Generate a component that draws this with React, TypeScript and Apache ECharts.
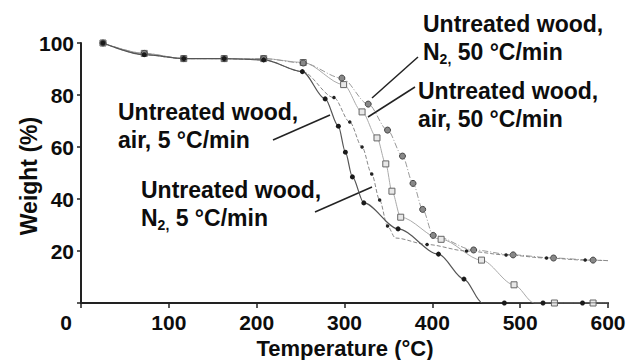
import { useEffect, useRef } from "react";
import * as echarts from "echarts";

// Axis ticks
const temperatureTicks = [0, 100, 200, 300, 400, 500, 600];
const weightTicks = [0, 20, 40, 60, 80, 100];

// TGA curves of untreated wood: [temperature (°C), residual weight (%)]
const airSlow: number[][] = [
  [25, 100], [72, 95.5], [117, 94], [163, 94], [208, 93.5], [252, 89],
  [278, 78.5], [293, 68], [301, 58], [309, 48.5], [322, 38.5], [361, 28.5],
  [407, 18.8], [436, 9.2], [457, 0], [482, 0], [526, 0], [571, 0], [600, 0],
];
const nitrogenSlow: number[][] = [
  [25, 100], [72, 95.5], [117, 94], [163, 94], [208, 93.5], [252, 89],
  [288, 79], [306, 69.6], [320, 60], [331, 49.6], [340, 39.6], [349, 29.6],
  [358, 25], [394, 22.5], [439, 20], [484, 18.5], [530, 17.3], [574, 16.5], [600, 16.3],
];
const airFast: number[][] = [
  [25, 100], [72, 96], [117, 94], [163, 94], [208, 94], [253, 92.5],
  [299, 84], [320, 73.5], [337, 63.5], [347, 53.5], [354, 43], [364, 33],
  [410, 24.5], [456, 16.5], [493, 7], [516, 0], [539, 0], [583, 0], [600, 0],
];
const nitrogenFast: number[][] = [
  [25, 100], [72, 96], [117, 94], [163, 94], [208, 94], [253, 92.3],
  [297, 86.5], [327, 76.5], [349, 66.5], [366, 56.5], [378, 46], [389, 36],
  [401, 26], [447, 20.4], [492, 18.5], [538, 17.3], [583, 16.5], [600, 16.3],
];

// Temperatures that only shape a curve (no measured marker drawn)
const airSlowBends = [457, 600];
const nitrogenSlowBends = [358, 600];
const airFastBends = [516, 600];
const nitrogenFastBends = [600];

const FONT = "Liberation Sans";
const INK = "#0d0d0d";

function toData(points: number[][], bends: number[]) {
  return points.map(([t, w]) =>
    bends.includes(t) ? { value: [t, w], symbol: "none" } : { value: [t, w] }
  );
}

export default function App() {
  const ref = useRef<HTMLDivElement>(null);

  useEffect(() => {
    document.body.style.margin = "0";
    if (!ref.current) return;
    const chart = echarts.init(ref.current, undefined, { renderer: "svg" });

    const labelStyle = {
      fontFamily: FONT,
      fontWeight: "bold" as const,
      fontSize: 21,
      color: INK,
    };
    const noteFont = `bold 23px "${FONT}"`;
    const noteRich = {
      sub: {
        fontFamily: FONT,
        fontWeight: "bold" as const,
        fontSize: 14,
        lineHeight: 14,
        verticalAlign: "bottom" as const,
        fill: INK,
      },
    };
    const note = (x: number, y: number, text: string) => ({
      type: "text",
      x,
      y,
      style: {
        text,
        font: noteFont,
        fill: INK,
        lineHeight: 28,
        rich: noteRich,
        align: "left",
        verticalAlign: "top",
      },
    });
    const leader = (x1: number, y1: number, x2: number, y2: number) => ({
      type: "line",
      shape: { x1, y1, x2, y2 },
      style: { stroke: "#222", lineWidth: 1.5 },
    });

    chart.setOption({
      animation: false,
      backgroundColor: "#fff",
      grid: { left: 81, right: 21, top: 43, bottom: 57, containLabel: false },
      xAxis: {
        type: "value",
        min: temperatureTicks[0],
        max: temperatureTicks[temperatureTicks.length - 1],
        interval: 100,
        axisLine: { show: true, lineStyle: { color: "#222", width: 2 } },
        axisTick: { show: true, length: 5, lineStyle: { color: "#222", width: 1.5 } },
        axisLabel: {
          ...labelStyle,
          margin: 9,
          formatter: (v: number) => (v === 0 ? "" : String(v)),
        },
        splitLine: { show: false },
      },
      yAxis: {
        type: "value",
        min: weightTicks[0],
        max: weightTicks[weightTicks.length - 1],
        interval: 20,
        axisLine: { show: true, lineStyle: { color: "#222", width: 2 } },
        axisTick: { show: true, length: 4, lineStyle: { color: "#222", width: 1.5 } },
        axisLabel: {
          ...labelStyle,
          margin: 7,
          formatter: (v: number) => (v === 0 ? "" : String(v)),
        },
        splitLine: { show: false },
      },
      series: [
        {
          name: "Untreated wood, air, 5 °C/min",
          type: "line",
          data: toData(airSlow, airSlowBends),
          smooth: 0.3,
          smoothMonotone: "x",
          symbol: "circle",
          symbolSize: 5,
          itemStyle: { color: "#1a1a1a" },
          lineStyle: { color: "#555", width: 1.2 },
          z: 4,
        },
        {
          name: "Untreated wood, N2, 5 °C/min",
          type: "line",
          data: toData(nitrogenSlow, nitrogenSlowBends),
          smooth: 0.3,
          smoothMonotone: "x",
          symbol: "circle",
          symbolSize: 3.5,
          itemStyle: { color: "#222" },
          lineStyle: { color: "#888", width: 1, type: [4, 2] },
          z: 3,
        },
        {
          name: "Untreated wood, air, 50 °C/min",
          type: "line",
          data: toData(airFast, airFastBends),
          smooth: 0.3,
          smoothMonotone: "x",
          symbol: "rect",
          symbolSize: 6,
          itemStyle: { color: "#e8e8e8", borderColor: "#666", borderWidth: 1 },
          lineStyle: { color: "#aaa", width: 1 },
          z: 2,
        },
        {
          name: "Untreated wood, N2, 50 °C/min",
          type: "line",
          data: toData(nitrogenFast, nitrogenFastBends),
          smooth: 0.3,
          smoothMonotone: "x",
          symbol: "circle",
          symbolSize: 6,
          itemStyle: { color: "#888", borderColor: "#444", borderWidth: 1 },
          lineStyle: { color: "#999", width: 1, type: [6, 2, 1, 2] },
          z: 2,
        },
      ],
      graphic: [
        {
          type: "text",
          x: 66,
          y: 322,
          style: { text: "0", font: `bold 21px "${FONT}"`, fill: INK, align: "center", verticalAlign: "middle" },
        },
        {
          type: "text",
          x: 345,
          y: 348,
          style: {
            text: "Temperature (°C)",
            font: `bold 22px "${FONT}"`,
            fill: INK,
            align: "center",
            verticalAlign: "middle",
          },
        },
        {
          type: "text",
          x: 29,
          y: 176,
          rotation: Math.PI / 2,
          style: {
            text: "Weight (%)",
            font: `bold 23px "${FONT}"`,
            fill: INK,
            align: "center",
            verticalAlign: "middle",
          },
        },
        note(423, 10, "Untreated wood,\nN{sub|2,} 50 °C/min"),
        note(418, 77, "Untreated wood,\nair, 50 °C/min"),
        note(118, 98, "Untreated wood,\nair, 5 °C/min"),
        note(141, 176, "Untreated wood,\nN{sub|2,} 5 °C/min"),
        leader(418, 57, 372, 98),
        leader(415, 87, 368, 117),
        leader(273, 140, 330, 115),
        leader(315, 212, 372, 187),
      ],
    });

    return () => chart.dispose();
  }, []);

  return <div ref={ref} style={{ width: 629, height: 360 }} />;
}
